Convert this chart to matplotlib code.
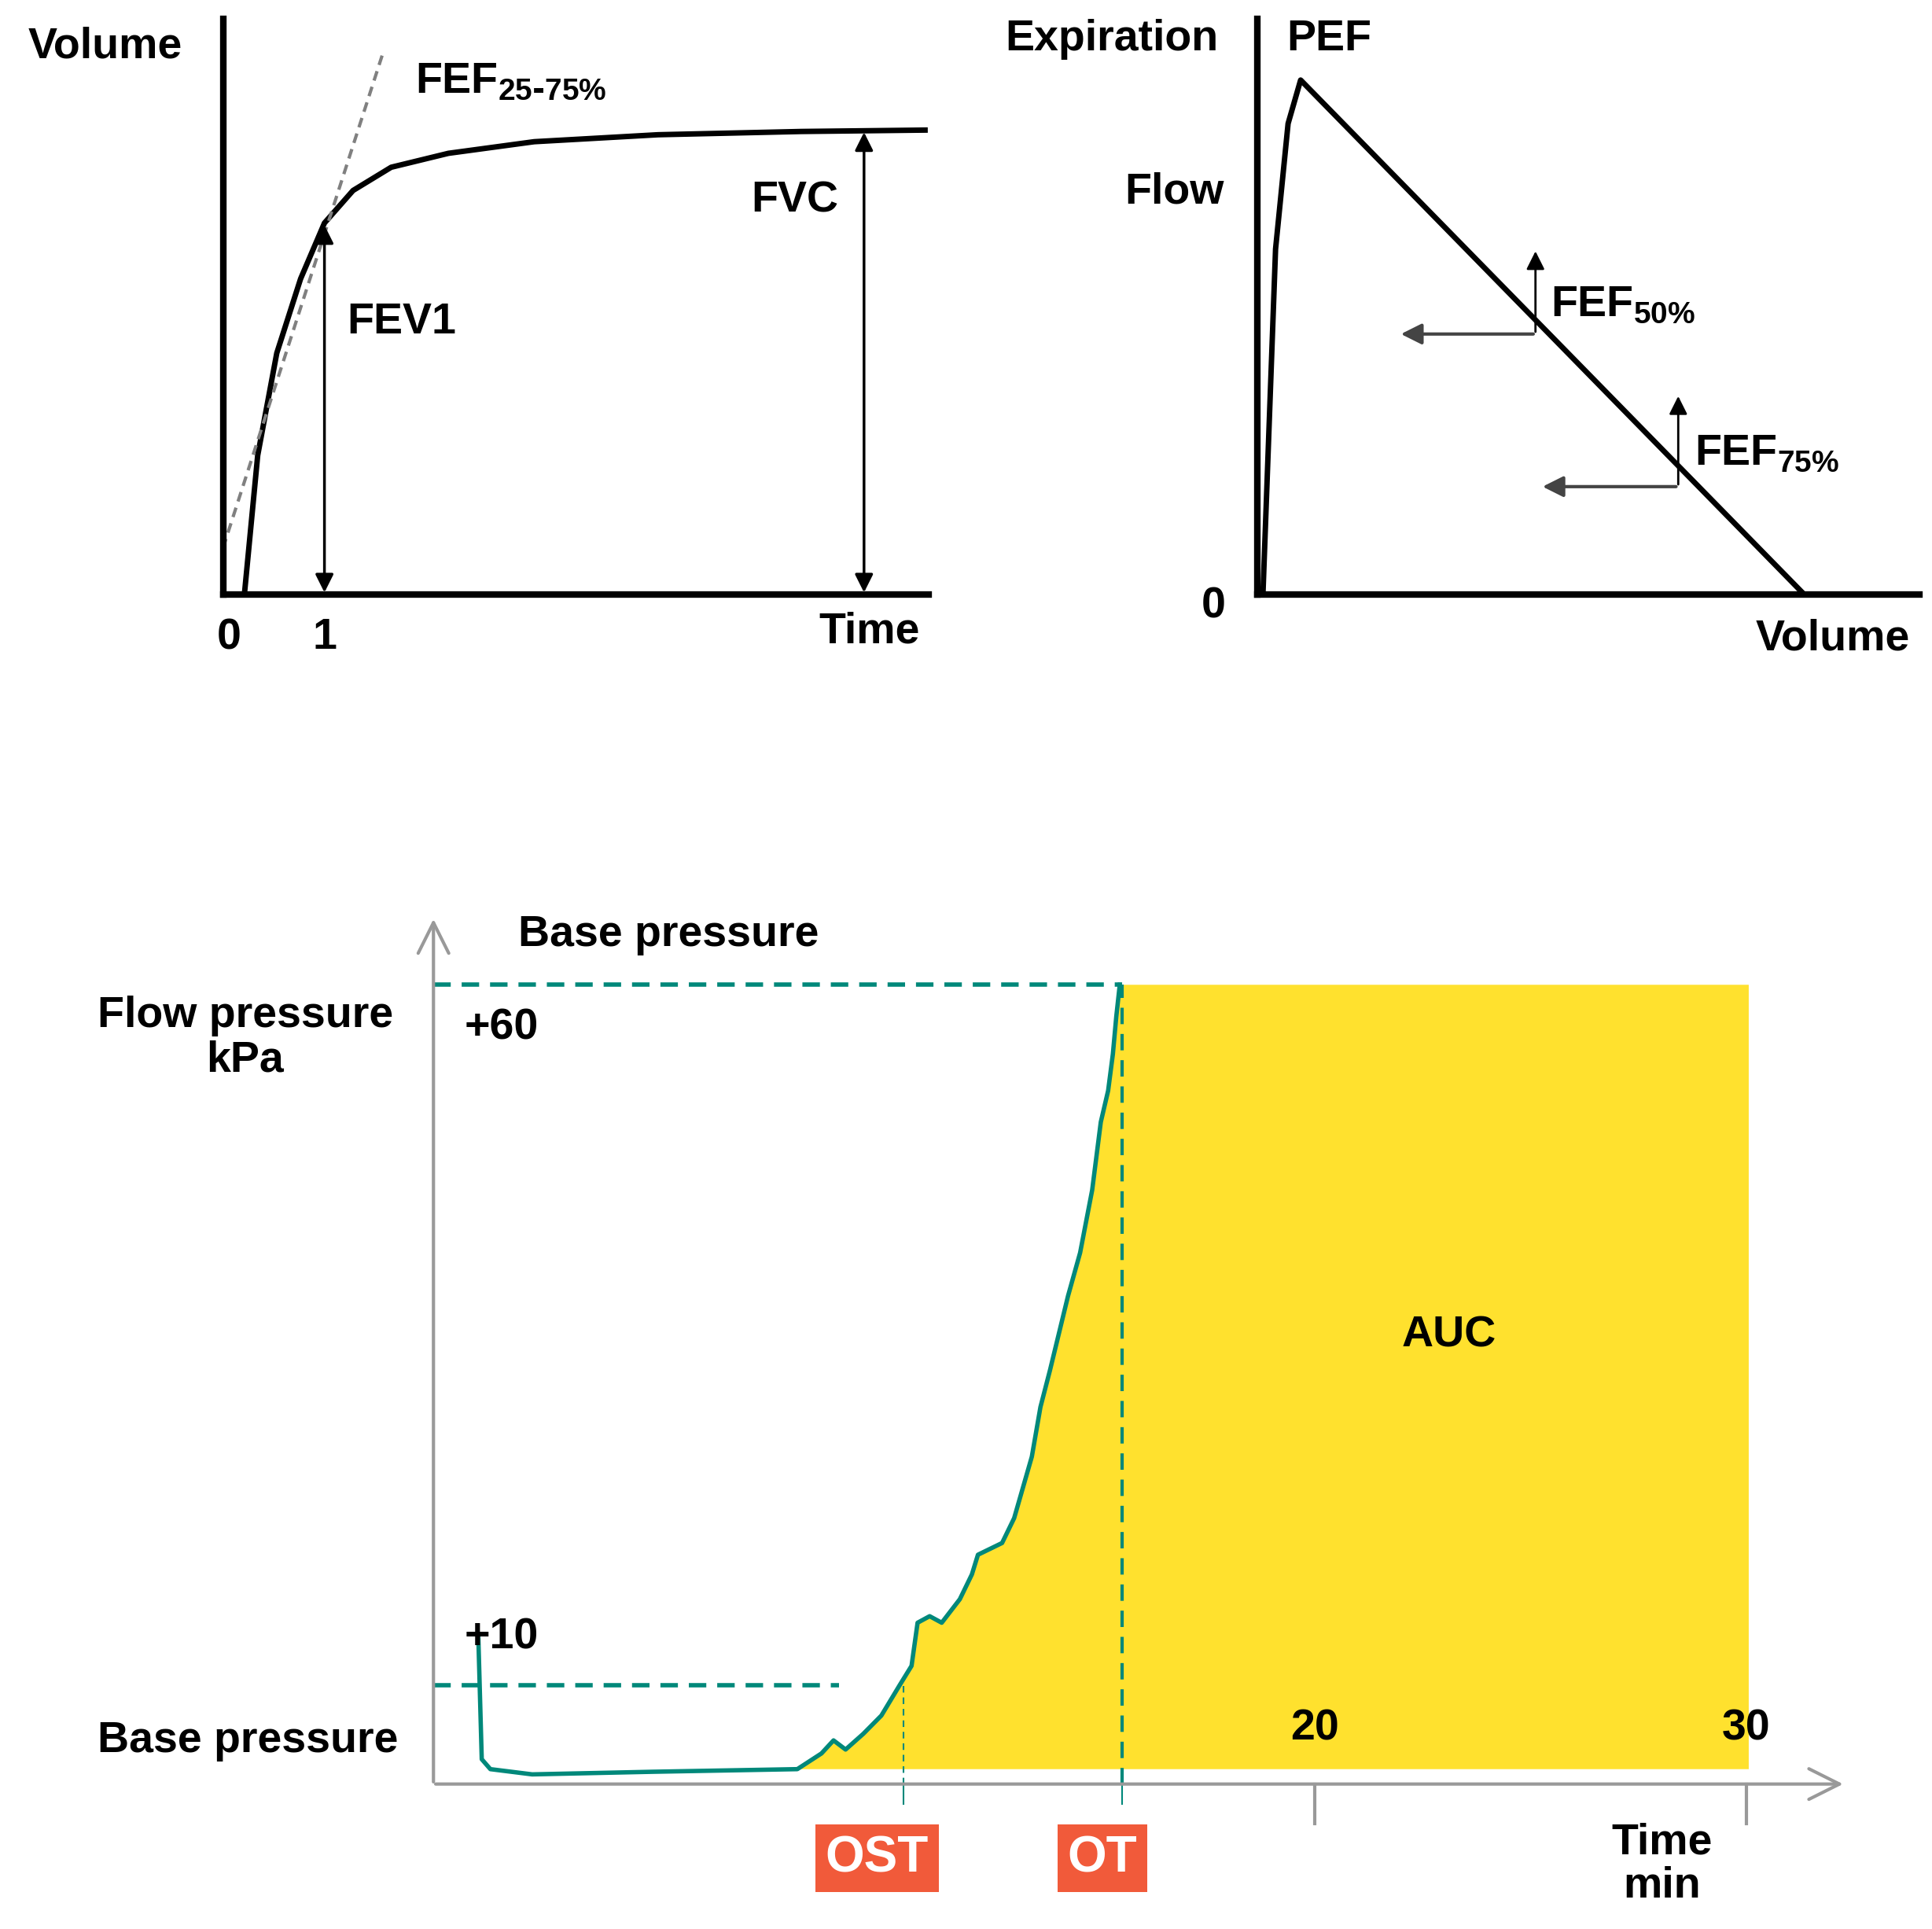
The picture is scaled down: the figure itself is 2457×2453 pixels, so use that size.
import numpy as np
import matplotlib
matplotlib.use("Agg")
import matplotlib.pyplot as plt

plt.rcParams['font.family'] = ['Liberation Sans', 'DejaVu Sans']
plt.rcParams['font.weight'] = 'bold'

# spirometry volume-time curve
vt_time = [0.16, 0.3, 0.5, 0.75, 1.0, 1.3, 1.7, 2.3, 3.2, 4.5, 6.0, 7.3]
vt_volume = [0.0, 0.3, 0.52, 0.68, 0.8, 0.87, 0.92, 0.95, 0.975, 0.99, 0.997, 1.0]
fef2575_t = [-0.065, 1.62]
fef2575_v = [0.10, 1.17]
fev1_t, fev1_v = 1.0, 0.8
fvc_t, fvc_v = 6.66, 1.0

# flow-volume loop
fv_volume = [0.011, 0.034, 0.057, 0.08, 1.0]
fv_flow = [0.0, 0.67, 0.915, 1.0, 0.0]
fef50 = (0.511, 0.504, 0.26, 0.67)   # x, y, arrow-left to, arrow-up to
fef75 = (0.773, 0.206, 0.52, 0.387)

# flow pressure curve
fp_time = [0.59, 0.67, 0.87, 1.84, 4.64, 7.99, 8.55, 8.83, 9.11, 9.52, 9.94, 10.36,
           10.64, 10.78, 11.06, 11.34, 11.76, 12.04, 12.18, 12.74, 13.02, 13.43,
           13.63, 13.85, 14.27, 14.55, 14.83, 15.03, 15.20, 15.31, 15.39, 15.47]
fp_press = [10.2, 0.76, 0.0, -0.4, -0.2, 0.0, 1.2, 2.2, 1.5, 2.7, 4.1, 6.4,
            7.9, 11.2, 11.7, 11.2, 13.0, 14.9, 16.4, 17.3, 19.2, 23.9,
            27.7, 30.5, 36.2, 39.5, 44.3, 49.5, 51.9, 54.7, 57.6, 60.0]
t_ost, t_ot, t_end = 10.45, 15.53, 30.06
p_top, p_low = 60.0, 6.4
time_ticks = [20, 30]

TEAL = '#00887a'
YELLOW = '#ffe12e'
RED = '#f15a3a'
W, H = 1560, 1557


def P(x, y):
    return x / W, 1 - y / H


fig = plt.figure(figsize=(24.57, 24.53), dpi=100)
FS = 40


def label(x, y, s, **kw):
    kw.setdefault('ha', 'center')
    kw.setdefault('va', 'center')
    kw.setdefault('fontsize', FS)
    fig.text(*P(x, y), s, **kw)


# ---- top left
ax1 = fig.add_axes([180 / W, 1 - 480 / H, 570 / W, 465 / H])
ax1.set_xlim(-0.065, 7.34)
ax1.set_ylim(0, 1.24)
for s in ['top', 'right']:
    ax1.spines[s].set_visible(False)
for s in ['left', 'bottom']:
    ax1.spines[s].set_linewidth(6)
ax1.set_xticks([]); ax1.set_yticks([])
ax1.plot(vt_time, vt_volume, color='black', lw=5)
ax1.plot(fef2575_t, fef2575_v, color='gray', lw=3, ls=(0, (3, 2)))
for t, v in [(fev1_t, fev1_v), (fvc_t, fvc_v)]:
    ax1.annotate('', xy=(t, v), xytext=(t, 0),
                 arrowprops=dict(arrowstyle='<|-|>', color='black', lw=2.5, mutation_scale=35))
ax1.patch.set_alpha(0)

label(85, 38, 'Volume')
label(335, 66, r'FEF$_{\mathregular{25\text{-}75\%}}$', ha='left')
label(280, 260, 'FEV1', ha='left')
label(642, 162, 'FVC')
label(185, 515, '0')
label(262, 515, '1')
label(702, 510, 'Time')

# ---- top right
ax2 = fig.add_axes([1015 / W, 1 - 480 / H, 535 / W, 465 / H])
ax2.set_xlim(0, 1.216)
ax2.set_ylim(-0.005, 1.12)
for s in ['top', 'right']:
    ax2.spines[s].set_visible(False)
for s in ['left', 'bottom']:
    ax2.spines[s].set_linewidth(6)
ax2.set_xticks([]); ax2.set_yticks([])
ax2.plot(fv_volume, fv_flow, color='black', lw=5)
for x, y, xl, yu in [fef50, fef75]:
    ax2.annotate('', xy=(xl, y), xytext=(x, y),
                 arrowprops=dict(arrowstyle='-|>', color='#444444', lw=3, mutation_scale=40))
    ax2.annotate('', xy=(x, yu), xytext=(x, y),
                 arrowprops=dict(arrowstyle='-|>', color='black', lw=2, mutation_scale=35))
ax2.patch.set_alpha(0)

label(898, 32, 'Expiration')
label(1073, 32, 'PEF')
label(948, 155, 'Flow')
label(980, 490, '0')
label(1480, 516, 'Volume')
label(1252, 246, r'FEF$_{\mathregular{50\%}}$', ha='left')
label(1368, 366, r'FEF$_{\mathregular{75\%}}$', ha='left')

# ---- bottom
ax3 = fig.add_axes([350 / W, 1 - 1440 / H, 1140 / W, 700 / H])
x0, y0 = -0.45, -1.14
ax3.set_xlim(x0, 32.3)
ax3.set_ylim(y0, 65.2)
ax3.axis('off')

i0 = fp_time.index(7.99)
poly_x = fp_time[i0:] + [t_end, t_end]
poly_y = fp_press[i0:] + [p_top, 0.0]
ax3.fill(poly_x, poly_y, color=YELLOW, lw=0, zorder=1)
ax3.plot(fp_time, fp_press, color=TEAL, lw=4, zorder=4)
ax3.plot([x0, t_ot], [p_top, p_top], color=TEAL, lw=4, ls=(0, (4, 2.5)), zorder=3)
ax3.plot([x0, 8.96], [p_low, p_low], color=TEAL, lw=4, ls=(0, (4, 2.5)), zorder=3)
ax3.plot([t_ot, t_ot], [y0, p_top], color=TEAL, lw=3, ls=(0, (5, 3)), zorder=3)
ax3.plot([t_ost, t_ost], [y0, 6.4], color=TEAL, lw=1.5, ls=(0, (4, 3)), zorder=3)

ax3.annotate('', xy=(32.3, y0), xytext=(x0, y0),
             arrowprops=dict(arrowstyle='->', color='#999999', lw=3, mutation_scale=70), zorder=5)
ax3.annotate('', xy=(x0, 65.2), xytext=(x0, y0),
             arrowprops=dict(arrowstyle='->', color='#999999', lw=3, mutation_scale=70), zorder=5)
for t in time_ticks:
    ax3.plot([t, t], [y0, y0 - 3], color='#999999', lw=3, clip_on=False)
    ax3.text(t, 1.5, str(t), ha='center', va='bottom', fontsize=FS, fontweight='bold', zorder=6)
for t, s in [(t_ost, 'OST'), (t_ot, 'OT')]:
    ax3.plot([t, t], [y0, y0 - 1.5], color=TEAL, lw=1.5, clip_on=False)

label(540, 755, 'Base pressure')
label(198, 838, 'Flow pressure\nkPa', linespacing=1.1)
label(405, 830, '+60')
label(405, 1322, '+10')
label(200, 1405, 'Base pressure')
label(1170, 1078, 'AUC')
label(1342, 1505, 'Time\nmin', linespacing=1.1)
label(708, 1500, 'OST', color='white', fontsize=46,
      bbox=dict(boxstyle='square,pad=0.2', fc=RED, ec='none'))
label(890, 1500, 'OT', color='white', fontsize=46,
      bbox=dict(boxstyle='square,pad=0.2', fc=RED, ec='none'))

fig.savefig('out.png', dpi=100, facecolor='white')
